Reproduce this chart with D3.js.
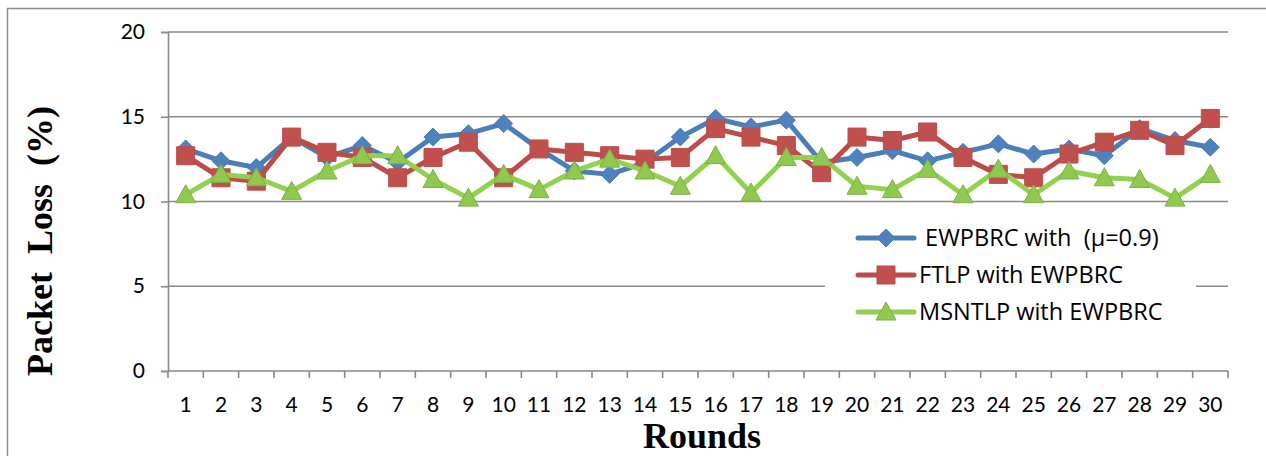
<!DOCTYPE html>
<html>
<head>
<meta charset="utf-8">
<script src="https://cdn.jsdelivr.net/npm/d3@7"></script>
<style>
  body { margin: 0; background: #fff; }
  svg { display: block; }
</style>
</head>
<body>
<script>
// Packet loss per round, three schemes

const rounds = d3.range(1, 31);
const yTicks = [0, 5, 10, 15, 20];

const seriesNames = [" EWPBRC with  (\u03bc=0.9)", "FTLP with EWPBRC", "MSNTLP with EWPBRC"];

const ewpbrc = [13.1, 12.4, 12.0, 13.8, 12.6, 13.3, 12.3, 13.8, 14.0, 14.6,
                13.1, 11.8, 11.6, 12.3, 13.8, 14.9, 14.4, 14.8, 12.3, 12.6,
                13.0, 12.4, 12.9, 13.4, 12.8, 13.1, 12.7, 14.3, 13.6, 13.2];
const ftlp = [12.7, 11.4, 11.2, 13.8, 12.9, 12.6, 11.4, 12.6, 13.5, 11.4,
              13.1, 12.9, 12.7, 12.5, 12.6, 14.3, 13.8, 13.3, 11.7, 13.8,
              13.6, 14.1, 12.6, 11.6, 11.4, 12.8, 13.5, 14.2, 13.3, 14.9];
const msntlp = [10.4, 11.6, 11.4, 10.6, 11.8, 12.7, 12.7, 11.3, 10.2, 11.6,
                10.7, 11.8, 12.5, 11.8, 10.9, 12.7, 10.5, 12.6, 12.6, 10.9,
                10.7, 11.9, 10.4, 11.9, 10.4, 11.8, 11.4, 11.3, 10.2, 11.6];

const W = 1266, H = 456;
const pLeft = 168, pRight = 1228, pTop = 32, pBottom = 371;
const tickFont = "Lato, 'Open Sans', sans-serif";
const legendFont = "'Open Sans', 'DejaVu Sans', sans-serif";
const serif = "'Liberation Serif', 'Times New Roman', serif";
const grid = "#898989";

const styles = [
  { line: "#4a7ebb", fill: "#4f81bd", stroke: "#4a7ebb", shape: "diamond" },
  { line: "#be4b48", fill: "#c0504d", stroke: "#be4b48", shape: "square" },
  { line: "#92d050", fill: "#8fc94f", stroke: "#7fae44", shape: "triangle" }
];
const data = [ewpbrc, ftlp, msntlp];

const svg = d3.select("body").append("svg")
    .attr("width", W)
    .attr("height", H);

// outer frame
svg.append("rect")
    .attr("x", 7.5).attr("y", 8.5)
    .attr("width", 1400).attr("height", 600)
    .attr("fill", "none")
    .attr("stroke", "#8c8c8c")
    .attr("stroke-width", 1.5);

const x = d3.scaleBand().domain(rounds).range([pLeft, pRight]).padding(0);
const y = d3.scaleLinear().domain([0, 20]).range([pBottom, pTop]);
const cx = d => x(d) + x.bandwidth() / 2;

// horizontal gridlines
svg.append("g").selectAll("line")
    .data(yTicks.filter(t => t > 0))
    .join("line")
    .attr("x1", pLeft).attr("x2", pRight)
    .attr("y1", d => y(d)).attr("y2", d => y(d))
    .attr("stroke", grid).attr("stroke-width", 1.6);

// y axis
const yAxis = svg.append("g")
    .attr("transform", `translate(${pLeft},0)`)
    .call(d3.axisLeft(y).tickValues(yTicks).tickSize(7).tickPadding(16));
yAxis.select(".domain").attr("stroke", grid).attr("stroke-width", 1.6);
yAxis.selectAll(".tick line").attr("stroke", grid).attr("stroke-width", 1.6);
yAxis.selectAll("text").attr("font-family", tickFont).attr("font-size", 21).attr("fill", "#000");

// x axis (labels centred on categories, ticks between them)
const xAxis = svg.append("g")
    .attr("transform", `translate(0,${pBottom})`)
    .call(d3.axisBottom(x).tickSize(0).tickPadding(26));
xAxis.select(".domain").remove();
xAxis.selectAll("text").attr("font-family", tickFont).attr("font-size", 21).attr("fill", "#000");
xAxis.append("line")
    .attr("x1", pLeft).attr("x2", pRight)
    .attr("stroke", grid).attr("stroke-width", 1.6);
xAxis.selectAll(".sep")
    .data(rounds.map(r => x(r)).concat([pRight]))
    .join("line")
    .attr("class", "sep")
    .attr("x1", d => d).attr("x2", d => d)
    .attr("y1", 0).attr("y2", 7)
    .attr("stroke", grid).attr("stroke-width", 1.6);

// markers
function marker(sel, shape) {
  if (shape === "diamond") {
    sel.attr("d", "M0,-9L9,0L0,9L-9,0Z");
  } else if (shape === "square") {
    sel.attr("d", "M-9,-9H9V9H-9Z");
  } else {
    sel.attr("d", "M0,-10L10,8L-10,8Z");
  }
}

const line = d3.line().x((d, i) => cx(rounds[i])).y(d => y(d));

data.forEach((vals, k) => {
  const s = styles[k];
  const g = svg.append("g");
  g.append("path")
      .datum(vals)
      .attr("d", line)
      .attr("fill", "none")
      .attr("stroke", s.line)
      .attr("stroke-width", 5)
      .attr("stroke-linejoin", "round")
      .attr("stroke-linecap", "round");
  g.selectAll("path.m")
      .data(vals)
      .join("path")
      .attr("class", "m")
      .attr("transform", (d, i) => `translate(${cx(rounds[i])},${y(d)})`)
      .call(marker, s.shape)
      .attr("fill", s.fill)
      .attr("stroke", s.stroke)
      .attr("stroke-width", 1);
});

// legend
const legend = svg.append("g");
legend.append("rect")
    .attr("x", 825).attr("y", 222)
    .attr("width", 371).attr("height", 108)
    .attr("fill", "#fff");
seriesNames.forEach((name, k) => {
  const s = styles[k];
  const ly = 238 + k * 37;
  legend.append("line")
      .attr("x1", 858).attr("x2", 914)
      .attr("y1", ly).attr("y2", ly)
      .attr("stroke", s.line).attr("stroke-width", 5)
      .attr("stroke-linecap", "round");
  legend.append("path")
      .attr("transform", `translate(886,${ly})`)
      .call(marker, s.shape)
      .attr("fill", s.fill).attr("stroke", s.stroke).attr("stroke-width", 1);
  legend.append("text")
      .attr("x", 919).attr("y", ly)
      .attr("dy", "0.36em")
      .attr("font-family", legendFont)
      .attr("font-size", 23.5)
      .style("white-space", "pre")
      .text(name);
});

// axis titles
svg.append("text")
    .attr("x", 702).attr("y", 448)
    .attr("text-anchor", "middle")
    .attr("font-family", serif)
    .attr("font-weight", "bold")
    .attr("font-size", 36)
    .text("Rounds");

svg.append("text")
    .attr("transform", "translate(52,241) rotate(-90)")
    .attr("text-anchor", "middle")
    .attr("font-family", serif)
    .attr("font-weight", "bold")
    .attr("font-size", 36)
    .style("white-space", "pre")
    .text("Packet  Loss  (%)");
</script>
</body>
</html>
